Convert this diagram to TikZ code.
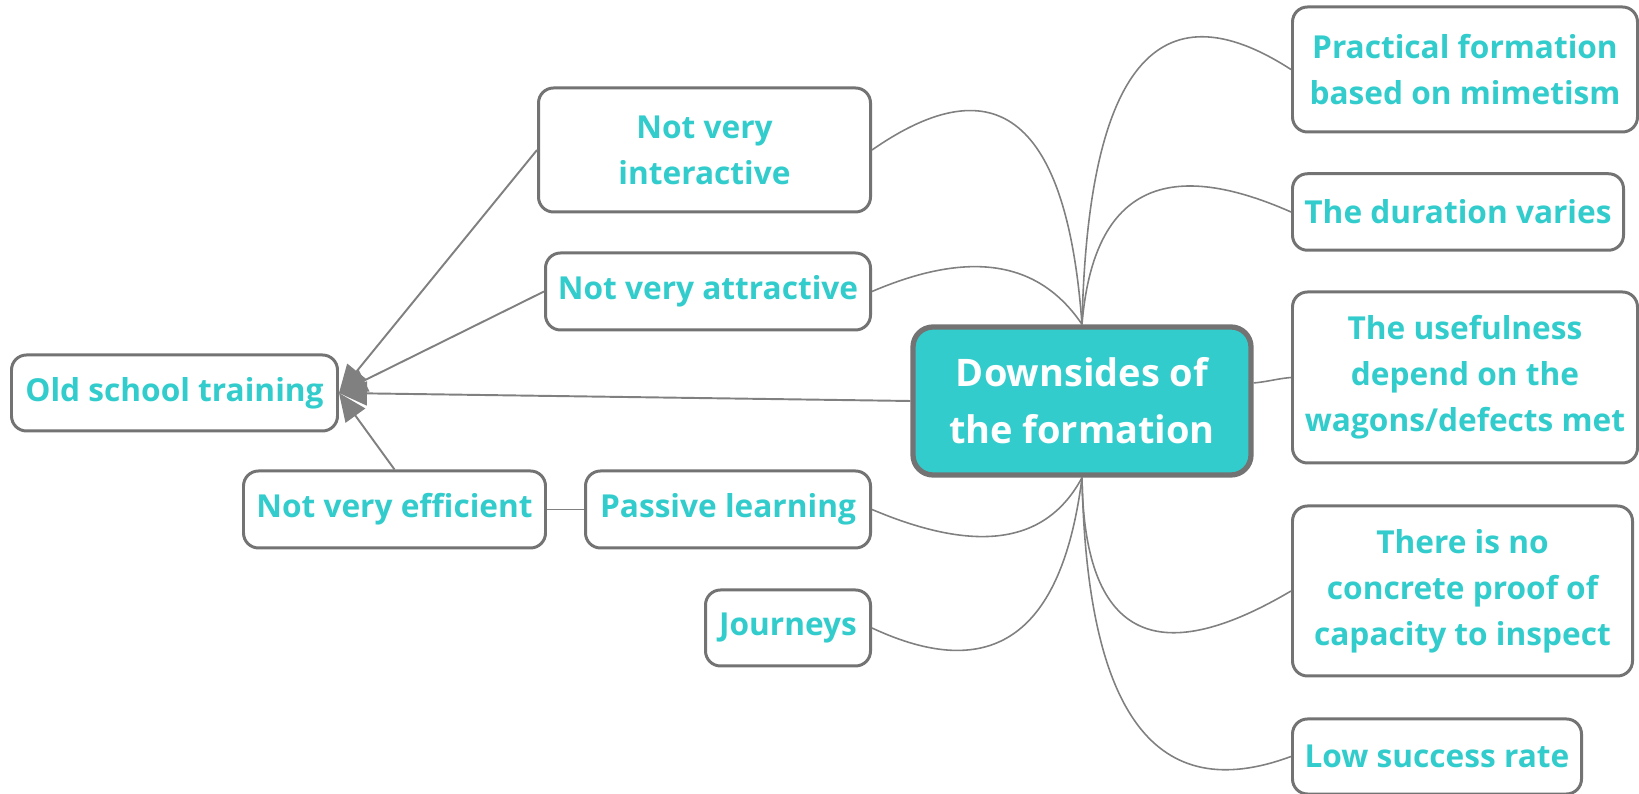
\documentclass[tikz,border=0pt]{standalone}
\usepackage{fontspec}
\setmainfont{Open Sans}
\usetikzlibrary{arrows.meta}
\definecolor{mapteal}{HTML}{33CCCC}
\definecolor{mapgray}{HTML}{737373}
\definecolor{wiregray}{HTML}{808080}
\begin{document}
\begin{tikzpicture}[
    leaf/.style={draw=mapgray,line width=0.85pt,rounded corners=0.15cm,fill=white,
        text=mapteal,align=center,inner sep=0pt,
        font=\fontsize{9}{13.1}\selectfont\bfseries},
    hub/.style={draw=mapgray,line width=1.5pt,rounded corners=0.2cm,fill=mapteal,
        text=white,align=center,inner sep=0pt,minimum width=3.38cm,minimum height=1.48cm,
        font=\fontsize{10.8}{16.3}\selectfont\bfseries},
    branch/.style={draw=wiregray,line width=0.45pt},
    pointer/.style={draw=wiregray,line width=0.55pt,-{Triangle[length=0.28cm,width=0.24cm]},fill=wiregray}
  ]
            \useasboundingbox (0,0) rectangle (16.39,7.94);

            % centre
            \node[hub] (ds) at (10.82,3.93) {Downsides of\\the formation};

            % left side
            \node[leaf,minimum width=3.26cm,minimum height=0.76cm] (old) at (1.745,4.01) {Old school training};
            \node[leaf,anchor=east,minimum width=3.32cm,minimum height=1.24cm] (inter) at (8.72,6.44) {Not very\\interactive};
            \node[leaf,anchor=east,minimum width=3.25cm,minimum height=0.77cm] (attr) at (8.72,5.025) {Not very attractive};
            \node[leaf,anchor=east,minimum width=2.85cm,minimum height=0.77cm] (passive) at (8.72,2.845) {Passive learning};
            \node[leaf,anchor=east,minimum width=1.65cm,minimum height=0.76cm] (journeys) at (8.72,1.66) {Journeys};
            \node[leaf,minimum width=3.02cm,minimum height=0.77cm] (eff) at (3.945,2.845) {Not very efficient};

            % right side
            \node[leaf,anchor=west,minimum width=3.45cm,minimum height=1.25cm] (practical) at (12.91,7.245) {Practical formation\\based on mimetism};
            \node[leaf,anchor=west,minimum width=3.31cm,minimum height=0.765cm] (duration) at (12.91,5.82) {The duration varies};
            \node[leaf,anchor=west,minimum width=3.45cm,minimum height=1.71cm] (useful) at (12.91,4.165) {The usefulness\\depend on the\\wagons/defects met};
            \node[leaf,anchor=west,minimum width=3.40cm,minimum height=1.70cm] (noproof) at (12.91,2.03) {There is no\\concrete proof of\\capacity to inspect};
            \node[leaf,anchor=west,minimum width=2.89cm,minimum height=0.75cm] (low) at (12.91,0.375) {Low success rate};

            % curved branches
            \draw[branch] (ds.north) .. controls +(-0.15,2.05) and +(1.25,0.87) .. (inter.east);
            \draw[branch] (ds.north) .. controls +(-0.44,0.65) and +(0.96,0.41) .. (attr.east);
            \draw[branch] (ds.south) .. controls +(-0.36,-0.67) and +(1.04,-0.44) .. (passive.east);
            \draw[branch] (ds.south) .. controls +(-0.20,-1.58) and +(1.20,-0.56) .. (journeys.east);
            \draw[branch] (ds.north) .. controls +(0.06,2.58) and +(-1.33,0.86) .. (practical.west);
            \draw[branch] (ds.north) .. controls +(0.11,1.33) and +(-1.29,0.57) .. (duration.west);
            \draw[branch] (ds.6) to[out=5,in=185] (useful.west);
            \draw[branch] (ds.south) .. controls +(0.02,-1.58) and +(-1.37,-0.81) .. (noproof.west);
            \draw[branch] (ds.south) .. controls +(0.05,-2.38) and +(-1.35,-0.50) .. (low.west);
            \draw[branch] (eff.east) -- (passive.west);

            % arrows into old school training
            \draw[pointer] (ds.west) -- (old.east);
            \draw[pointer] (inter.west) -- (old.east);
            \draw[pointer] (attr.west) -- (old.east);
            \draw[pointer] (eff.north) -- (old.east);
\end{tikzpicture}
\end{document}
